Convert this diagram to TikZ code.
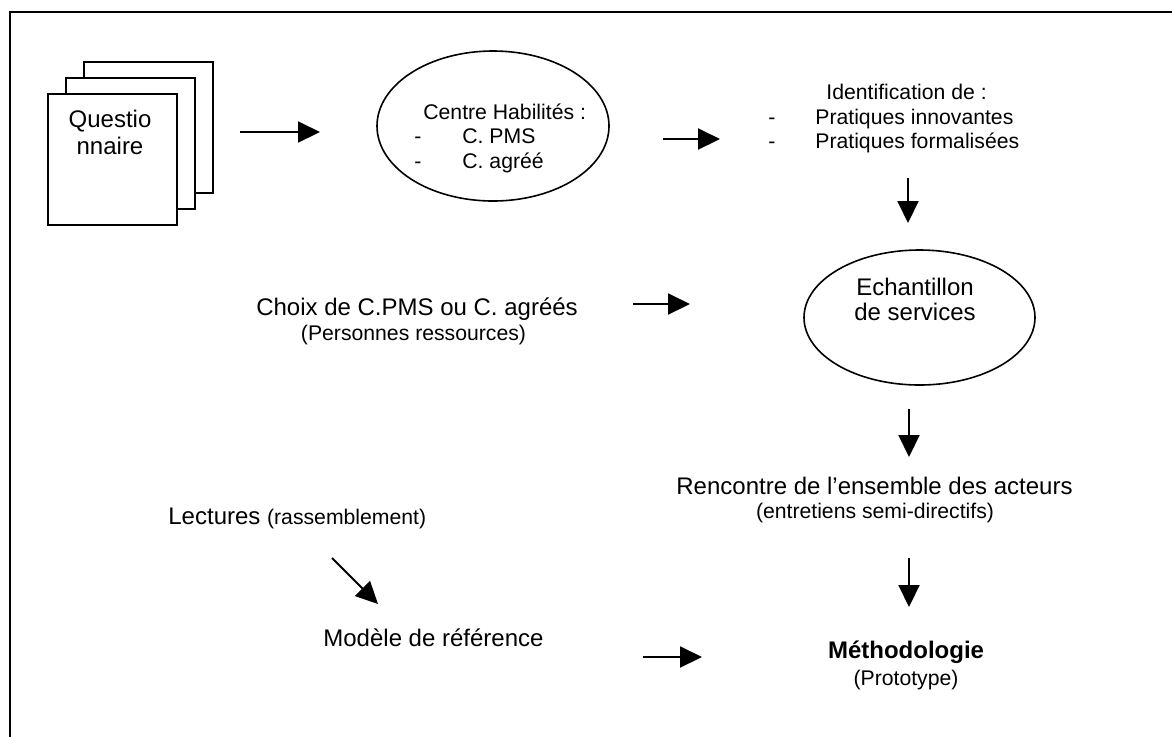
\documentclass[tikz,border=0pt]{standalone}
\usepackage{fontspec}
\setmainfont{Liberation Sans}
\usetikzlibrary{shapes}
\usetikzlibrary{positioning}
\usetikzlibrary{arrows.meta}
\tikzset{
    page/.style = {rectangle, line width=1pt, draw=black, fill=white, minimum width=64.5pt, minimum height=65.5pt, inner sep=0pt},
    bubble/.style = {ellipse, line width=0.8pt, draw=black, inner sep=0pt},
    txt/.style = {inner sep=0pt, anchor=base, font=\fontsize{12}{13.5}\selectfont},
    txts/.style = {inner sep=0pt, anchor=base, font=\fontsize{10.6}{12.2}\selectfont},
    arr/.style = {-{Triangle[length=11pt,width=10.5pt]}, line width=1pt}
}
\newcommand{\Sm}[1]{{\fontsize{10.6}{12.2}\selectfont #1}}

\begin{document}
\begin{tikzpicture}[x=0.5pt,y=-0.5pt]
\path[use as bounding box, clip] (0,0) rectangle (1172,736);
\draw[line width=1pt] (10,12) rectangle (1200,760);
%
\node[page] at (148.5,127.5) (qback) {};
\node[page] at (130.5,143.5) (qmid) {};
\node[page] at (112.5,159.5) (quest) {};
\node[txt, anchor=north, align=center] at (110,110) (questtxt) {Questio\\nnaire};
%
\node[bubble, minimum width=116pt, minimum height=75pt] at (493,126) (habil) {};
\node[txts, anchor=base west] at (423,119) (habil1) {Centre Habilités :};
\node[txts, anchor=base west] at (414,143) (habil2d) {-};
\node[txts, anchor=base west] at (462,143) (habil2) {C. PMS};
\node[txts, anchor=base west] at (414,168) (habil3d) {-};
\node[txts, anchor=base west] at (462,168) (habil3) {C. agréé};
%
\node[txts, anchor=base west] at (826,99) (ident1) {Identification de :};
\node[txts, anchor=base west] at (768,124) (ident2d) {-};
\node[txts, anchor=base west] at (815,124) (ident2) {Pratiques innovantes};
\node[txts, anchor=base west] at (768,148) (ident3d) {-};
\node[txts, anchor=base west] at (815,148) (ident3) {Pratiques formalisées};
%
\node[bubble, minimum width=115.5pt, minimum height=67.5pt] at (919.5,317.5) (echant) {};
\node[txt] at (915,295) (echant1) {Echantillon};
\node[txt] at (915,320) (echant2) {de services};
%
\node[txt] at (417,315) (choix) {Choix de C.PMS ou C. agréés};
\node[txts] at (413.5,340) (choix2) {(Personnes ressources)};
%
\node[txt, anchor=base west] at (168,524) (lect) {Lectures \Sm{(rassemblement)}};
\node[txt, anchor=base west] at (323,646) (modele) {Modèle de référence};
%
\node[txt] at (874.5,494) (renc) {Rencontre de l’ensemble des acteurs};
\node[txts] at (875,518.5) (renc2) {(entretiens semi-directifs)};
%
\node[txt, font=\fontsize{12}{13.5}\selectfont\bfseries] at (906,658) (metho) {Méthodologie};
\node[txts] at (906,685) (metho2) {(Prototype)};
%
\coordinate (qa) at (240,132);  \coordinate (qb) at (320,132);
\coordinate (ha) at (663,139);  \coordinate (hb) at (720,139);
\coordinate (ia) at (908,178);  \coordinate (ib) at (908,223);
\coordinate (ca) at (633,304);  \coordinate (cb) at (690,304);
\coordinate (ea) at (909,409);  \coordinate (eb) at (909,457);
\coordinate (ra) at (909,558);  \coordinate (rb) at (909,607);
\coordinate (la) at (332,558);  \coordinate (lb) at (378,604);
\coordinate (ma) at (643,657);  \coordinate (mb) at (702,657);
%
\draw[arr] (qa) -- (qb);
\draw[arr] (ha) -- (hb);
\draw[arr] (ia) -- (ib);
\draw[arr] (ca) -- (cb);
\draw[arr] (ea) -- (eb);
\draw[arr] (ra) -- (rb);
\draw[arr] (la) -- (lb);
\draw[arr] (ma) -- (mb);
\end{tikzpicture}
\end{document}
